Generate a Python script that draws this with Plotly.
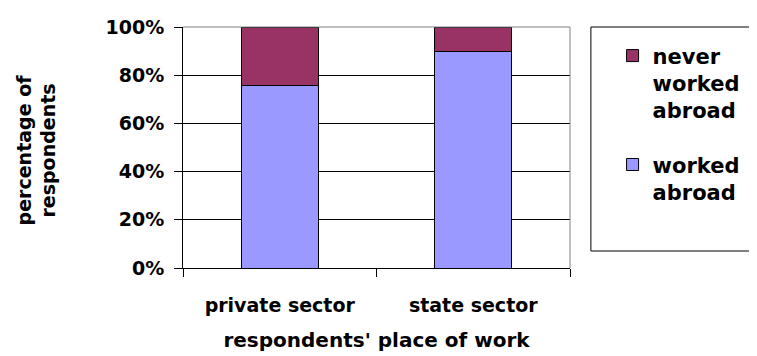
import plotly.graph_objects as go

categories = ["private sector", "state sector"]
worked_abroad = [0.756, 0.897]
never_worked_abroad = [0.244, 0.103]
series_names = ["worked<br>abroad", "never<br>worked<br>abroad"]
y_ticks = [0, 0.2, 0.4, 0.6, 0.8, 1.0]

FONT = "DejaVu Sans"

fig = go.Figure()
fig.add_trace(go.Bar(
    x=categories, y=worked_abroad, name=series_names[0],
    marker=dict(color="#9999FF", line=dict(color="black", width=1)),
    width=0.4, legendgroup="a", legendrank=2,
))
fig.add_trace(go.Bar(
    x=categories, y=never_worked_abroad, name=series_names[1],
    marker=dict(color="#993366", line=dict(color="black", width=1)),
    width=0.4, legendgroup="b", legendrank=1,
))

# the page body has an 8px margin, so the figure is offset by (8, 8);
# the figure is sized so that it fits exactly in the 757x356 window
fig.update_layout(
    width=749, height=348,
    margin=dict(l=175, r=187, t=19, b=88, autoexpand=False),
    barmode="stack",
    plot_bgcolor="white", paper_bgcolor="white",
    font=dict(family=FONT, color="black", size=18, weight="bold"),
    showlegend=True,
    legend=dict(
        x=1.11, y=0.965, xanchor="left", yanchor="top",
        traceorder="grouped", valign="top",
        font=dict(size=21, family=FONT, weight="bold"),
        bgcolor="rgba(0,0,0,0)", borderwidth=0,
        tracegroupgap=24,
    ),
    xaxis=dict(
        range=[-0.5, 1.5], automargin=False,
        showline=True, linecolor="black", linewidth=1,
        ticks="outside", ticklen=8, tickcolor="black", tickson="boundaries",
        tickfont=dict(size=19, family=FONT, weight="bold"),
        ticklabelstandoff=20,
        title=dict(text="respondents' place of work", standoff=18,
                   font=dict(size=20, family=FONT, weight="bold")),
        showgrid=False,
    ),
    yaxis=dict(
        range=[0, 1], tickvals=y_ticks, tickformat=".0%", automargin=False,
        showline=True, linecolor="black", linewidth=1,
        ticks="outside", ticklen=8, tickcolor="black",
        tickfont=dict(size=19, family=FONT, weight="bold"),
        ticklabelstandoff=6,
        showgrid=True, gridcolor="black", gridwidth=1,
        zeroline=False,
    ),
    shapes=[
        dict(type="line", xref="paper", yref="paper", x0=0, x1=1, y0=1, y1=1,
             line=dict(color="#808080", width=1)),
        dict(type="line", xref="paper", yref="paper", x0=1, x1=1, y0=0, y1=1,
             line=dict(color="#808080", width=1)),
        dict(type="rect", xref="paper", yref="paper", x0=1.054, x1=1.6, y0=0.0705, y1=1.0,
             line=dict(color="black", width=1), fillcolor="rgba(0,0,0,0)"),
    ],
    annotations=[
        dict(text="percentage of<br>respondents", textangle=-90,
             xref="paper", yref="paper", x=(28 - 175) / 387, y=0.488,
             xanchor="center", yanchor="middle", showarrow=False,
             font=dict(size=19, family=FONT, weight="bold")),
    ],
)

fig.write_html("out.html")
